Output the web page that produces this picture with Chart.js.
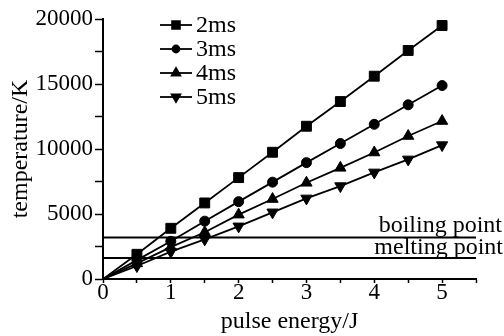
<!DOCTYPE html>
<html>
<head>
<meta charset="utf-8">
<script src="https://cdn.jsdelivr.net/npm/chart.js@4"></script>
<style>
  html, body { margin: 0; padding: 0; background: #fff; }
  #wrap { width: 504px; height: 336px; }
</style>
</head>
<body>
<div id="wrap"><canvas id="chart"></canvas></div>
<script>
const energy = [0, 0.5, 1, 1.5, 2, 2.5, 3, 3.5, 4, 4.5, 5]
const t2ms = [0, 1900, 3900, 5850, 7800, 9750, 11750, 13650, 15600, 17580, 19500]
const t3ms = [0, 1450, 2900, 4450, 5950, 7450, 8950, 10420, 11900, 13400, 14880]
const t4ms = [0, 1200, 2450, 3600, 4950, 6150, 7400, 8550, 9730, 11000, 12150]
const t5ms = [0, 1000, 2100, 3050, 4050, 5130, 6200, 7150, 8200, 9200, 10300]
const seriesNames = ['2ms', '3ms', '4ms', '5ms']
const boilingPoint = 3200
const meltingPoint = 1620
const refLineX = [0, 5.5]

const font = 'Liberation Serif'
const toPoints = (ys) => ys.map((y, i) => ({ x: energy[i], y: y }))

const markers = [
    { style: 'rect', radius: 7, rotation: 0 },
    { style: 'circle', radius: 5, rotation: 0 },
    { style: 'triangle', radius: 6.5, rotation: 0 },
    { style: 'triangle', radius: 6.5, rotation: 180 }
]

const seriesData = [t2ms, t3ms, t4ms, t5ms]
const datasets = seriesData.map((ys, k) => ({
    label: seriesNames[k],
    data: toPoints(ys),
    borderColor: '#000',
    backgroundColor: '#000',
    borderWidth: 1.8,
    pointStyle: markers[k].style,
    pointRotation: markers[k].rotation,
    pointRadius: (ctx) => ctx.dataIndex === 0 ? 0 : markers[k].radius,
    pointBorderWidth: 1
}))

datasets.push({
    label: 'boiling point',
    data: refLineX.map(x => ({ x: x, y: boilingPoint })),
    borderColor: '#000',
    borderWidth: 2,
    pointRadius: 0
})
datasets.push({
    label: 'melting point',
    data: refLineX.map(x => ({ x: x, y: meltingPoint })),
    borderColor: '#000',
    borderWidth: 2,
    pointRadius: 0
})

// legend in the top-left corner plus the labels of the two reference lines
const annotate = {
    id: 'annotate',
    afterDraw(chart) {
        const c = chart.ctx
        c.save()
        c.fillStyle = '#000'
        c.strokeStyle = '#000'
        c.font = '24px "' + font + '"'
        c.textBaseline = 'middle'
        const rows = [25, 49, 73, 97]
        for (let k = 0; k < 4; k++) {
            const y = rows[k]
            c.lineWidth = 1.8
            c.beginPath()
            c.moveTo(160, y)
            c.lineTo(192, y)
            c.stroke()
            Chart.helpers.drawPoint(c, {
                pointStyle: markers[k].style,
                rotation: markers[k].rotation,
                radius: markers[k].radius - 1.5,
                borderWidth: 1
            }, 176, y)
            c.fill()
            c.textAlign = 'left'
            c.fillText(seriesNames[k], 196, y + 1)
        }
        const ys = chart.scales.y
        c.textAlign = 'right'
        c.textBaseline = 'alphabetic'
        c.fillText('boiling point', 502, ys.getPixelForValue(boilingPoint) - 5)
        c.fillText('melting point', 503, ys.getPixelForValue(meltingPoint) - 4)
        c.restore()
    }
}

new Chart(document.getElementById('chart'), {
    type: 'line',
    data: { datasets: datasets },
    options: {
        responsive: true,
        maintainAspectRatio: false,
        animation: false,
        layout: { padding: { left: 0, right: 28, top: 19, bottom: 0 } },
        plugins: {
            legend: { display: false },
            tooltip: { enabled: false }
        },
        scales: {
            x: {
                type: 'linear',
                min: 0,
                max: 5.5,
                border: { color: '#000', width: 2 },
                grid: { drawOnChartArea: false, tickLength: 4, tickColor: '#000', tickWidth: 1.5 },
                ticks: {
                    stepSize: 0.5,
                    autoSkip: false,
                    maxRotation: 0,
                    padding: -4,
                    color: '#000',
                    font: { family: font, size: 23 },
                    callback: (v) => Number.isInteger(v) ? String(v) : ''
                },
                title: {
                    display: true,
                    text: 'pulse energy/J',
                    color: '#000',
                    font: { family: font, size: 24 },
                    padding: { top: 0, bottom: 0 }
                },
                afterFit: (s) => { s.height = 57 }
            },
            y: {
                min: 0,
                max: 20000,
                border: { color: '#000', width: 2 },
                grid: { drawOnChartArea: false, tickLength: 8, tickColor: '#000', tickWidth: 1.5 },
                ticks: {
                    stepSize: 2500,
                    autoSkip: false,
                    padding: 2,
                    color: '#000',
                    font: { family: font, size: 23 },
                    callback: (v) => v % 5000 === 0 ? String(v) : ''
                },
                title: {
                    display: true,
                    text: 'temperature/K',
                    color: '#000',
                    font: { family: font, size: 24 },
                    padding: { top: 6, bottom: 0 }
                },
                afterFit: (s) => { s.width = 103 }
            }
        }
    },
    plugins: [annotate]
})
</script>
</body>
</html>
